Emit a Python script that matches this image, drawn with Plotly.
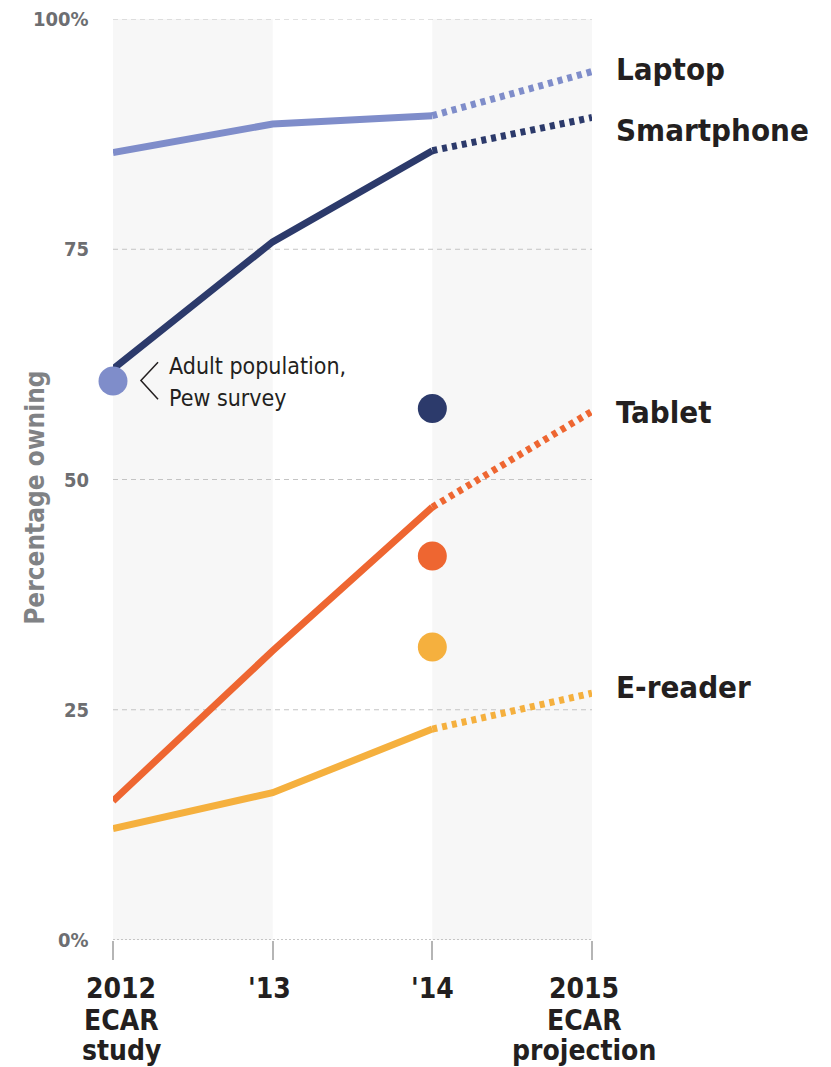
import plotly.graph_objects as go

# ---- data ----
years = [2012, 2013, 2014, 2015]
laptop = [85.5, 88.6, 89.5, 94.3]
smartphone = [62.0, 75.8, 85.7, 89.3]
tablet = [15.1, 31.4, 47.0, 57.4]
ereader = [12.1, 16.0, 22.9, 26.8]

series_names = ["Laptop", "Smartphone", "Tablet", "E-reader"]
series_colors = ["#7f8dca", "#2c3a6b", "#ee6631", "#f5b03e"]

pew_years = [2012, 2014, 2014, 2014]
pew_values = [60.7, 57.7, 41.7, 31.8]
pew_colors = ["#7f8dca", "#2c3a6b", "#ee6631", "#f5b03e"]

y_tick_vals = [100, 75, 50, 25, 0]
y_tick_text = ["100%", "75", "50", "25", "0%"]
x_tick_lines = [["2012", "ECAR", "study"], ["'13"], ["'14"], ["2015", "ECAR", "projection"]]

FONT = "DejaVu Sans Condensed"
DARK = "#231f20"
GRAY = "#6d6e71"

fig = go.Figure()

all_series = [laptop, smartphone, tablet, ereader]
for name, vals, col in zip(series_names, all_series, series_colors):
    # measured (solid) part
    fig.add_trace(go.Scatter(x=years[:3], y=vals[:3], mode="lines",
                             line=dict(color=col, width=7), name=name,
                             showlegend=False, hoverinfo="skip"))
    # projection (dotted) part
    fig.add_trace(go.Scatter(x=years[2:], y=vals[2:], mode="lines",
                             line=dict(color=col, width=7, dash="5px,5px"),
                             showlegend=False, hoverinfo="skip"))

fig.add_trace(go.Scatter(x=pew_years, y=pew_values, mode="markers",
                         marker=dict(size=29, color=pew_colors, line=dict(width=0)),
                         cliponaxis=False, showlegend=False, hoverinfo="skip"))

shapes = []
# shaded bands
for x0, x1 in [(2012, 2013), (2014, 2015)]:
    shapes.append(dict(type="rect", xref="x", yref="y", x0=x0, x1=x1, y0=0, y1=100,
                       fillcolor="#f7f7f7", line=dict(width=0), layer="below"))
# gridlines
for v in y_tick_vals:
    if v == 0:
        shapes.append(dict(type="line", xref="x", yref="y", x0=2012, x1=2015, y0=0, y1=0,
                           line=dict(color="#b5b5b5", width=1.5, dash="2px,2px"), layer="below"))
    else:
        shapes.append(dict(type="line", xref="x", yref="y", x0=2012, x1=2015, y0=v, y1=v,
                           line=dict(color="#c4c4c4", width=1, dash="5px,4px"), layer="below"))
# chevron pointing to Pew dot
shapes.append(dict(type="path", xref="x", yref="y",
                   path="M 2012.282 62.72 L 2012.175 60.76 L 2012.282 58.70",
                   line=dict(color=DARK, width=1.5)))

annotations = []
# series labels
label_y = [94.6, 88.0, 57.3, 27.5]
for name, ly in zip(series_names, label_y):
    annotations.append(dict(x=2015, y=ly, xref="x", yref="y", text=name, showarrow=False,
                            xanchor="left", yanchor="middle", xshift=22,
                            font=dict(family=FONT, size=31, color=DARK, weight="bold")))
# y tick labels
for v, t in zip(y_tick_vals, y_tick_text):
    annotations.append(dict(x=2012, y=v, xref="x", yref="y", text=t, showarrow=False,
                            xanchor="right", yanchor="middle", xshift=-22,
                            font=dict(family=FONT, size=20, color=GRAY, weight="bold")))
# x tick labels
x_shifts = [8, -3, 0, -8]
line_offsets = [-48, -80, -110]
for yr, lines, xs in zip(years, x_tick_lines, x_shifts):
    for i, ln in enumerate(lines):
        annotations.append(dict(x=yr, y=0, xref="x", yref="paper", text=ln, showarrow=False,
                                xanchor="center", yanchor="middle", xshift=xs,
                                yshift=line_offsets[i],
                                font=dict(family=FONT, size=28, color=DARK, weight="bold")))
# axis title
annotations.append(dict(x=-0.163, y=48.0, xref="paper", yref="y", text="Percentage owning",
                        textangle=-90, showarrow=False, xanchor="center", yanchor="middle",
                        font=dict(family=FONT, size=26, color="#808285", weight="bold")))
# Pew note
for txt, ty in [("Adult population,", 62.3), ("Pew survey", 58.8)]:
    annotations.append(dict(x=2012, y=ty, xref="x", yref="y", text=txt, showarrow=False,
                            xanchor="left", yanchor="middle", xshift=54,
                            font=dict(family=FONT, size=23, color=DARK)))

fig.update_layout(
    width=831, height=1067,
    margin=dict(l=113, r=239, t=19, b=127),
    paper_bgcolor="white", plot_bgcolor="white",
    xaxis=dict(range=[2012, 2015], showgrid=False, zeroline=False, showline=False,
               tickvals=years, ticks="outside", ticklen=19, tickwidth=1.5,
               tickcolor="#b5b5b5", showticklabels=False, fixedrange=True),
    yaxis=dict(range=[0, 100], showgrid=False, zeroline=False, showline=False,
               showticklabels=False, fixedrange=True),
    shapes=shapes, annotations=annotations,
)

fig.write_html("out.html", config={"displayModeBar": False},
               post_script="document.body.style.margin='0';document.body.style.padding='0';document.body.style.overflow='hidden';")
